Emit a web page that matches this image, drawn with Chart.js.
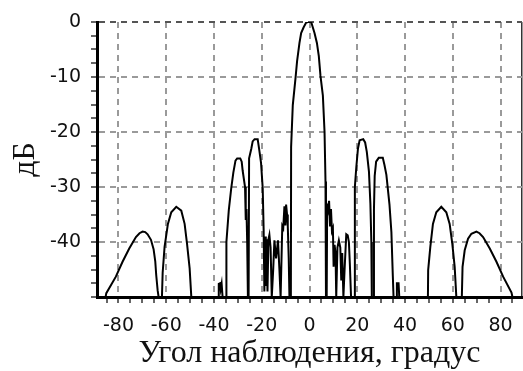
<!DOCTYPE html>
<html>
<head>
<meta charset="utf-8">
<script src="https://cdn.jsdelivr.net/npm/chart.js@4/dist/chart.umd.min.js"></script>
<style>
  html, body { margin: 0; padding: 0; background: #fff; }
  canvas { display: block; }
</style>
</head>
<body>
<canvas id="pattern" width="523" height="371"></canvas>
<script>
// ── DATA: radiation pattern, angle (deg) → level (dB) ─────────
const angles = [
  -89, -85.4, -85.1, -81.1, -78.3, -75.5, -72.7, -71.2, -69.9, -68.8, -67.8, -66.4, -65.3, -64.6, -64.2, -63.6, -63.2,
  -61.8, -61.5, -60.7, -59.3, -57.9, -55.8, -53.7, -52.3, -51.3, -50.2, -49.5,
  -38.3, -38.0, -37.5, -37.2, -36.8, -36.4,
  -34.9, -34.8, -33.8, -32.8, -31.9, -31.0, -30.3, -29.0, -28.4, -28.0, -27.0, -26.7, -26.4, -26.1, -25.8,
  -25.5, -25.3, -24.4, -23.8, -23.0, -21.7, -21.0, -20.3, -19.6, -19.2,
  -18.9, -18.6, -18.3, -18.0, -17.6, -17.2, -16.8, -16.3, -15.8, -15.2, -14.7, -14.0, -13.2, -12.6, -12.1,
  -11.4, -11.0, -10.5, -10.1, -9.8, -9.4, -9.1, -8.7, -8.4, -7.8,
  -7.7, -7.0, -5.9, -5.2, -4.2, -3.5, -2.5, -1.4, -0.5, 0.7, 1.4, 2.1, 3.1, 3.9, 4.6, 5.6, 6.3, 6.7, 6.9,
  7.2, 7.4, 7.8, 8.2, 8.6, 9.0, 9.4, 9.8, 10.1, 10.5, 10.9, 11.2, 11.7, 12.3, 12.9, 13.3, 13.7, 14.2,
  14.7, 15.4, 16.0, 16.5, 16.9, 17.4, 18.8,
  19.0, 19.6, 20.3, 21.0, 22.5, 23.3, 24.0, 24.9, 25.5, 25.9, 26.1,
  26.6, 27.0, 27.3, 27.9, 29.0, 30.7, 31.4, 32.2, 33.5, 34.3, 34.9, 35.2,
  36.3, 36.6, 37.3, 37.6,
  49.6, 49.7, 50.6, 51.7, 53.1, 55.2, 57.3, 58.7, 59.8, 60.8, 61.5,
  63.8, 64.1, 65.0, 66.4, 67.8, 69.9, 71.2, 72.7, 75.5, 78.3, 81.1, 84.6, 85.0, 89
];
const levels = [
  -50, -50, -49.3, -46.3, -43.6, -41.2, -39.1, -38.4, -38.1, -38.2, -38.6, -39.6, -41.3, -43.5, -46, -48.8, -50,
  -50, -45.6, -40.9, -36.7, -34.6, -33.6, -34.3, -36.7, -40.3, -44.8, -50,
  -50, -47.6, -47.5, -48.6, -47.6, -50,
  -50, -40, -34.2, -30.3, -27.4, -25.2, -24.8, -24.8, -25.4, -27, -30, -36, -34, -40, -50,
  -50, -24.8, -23.1, -21.7, -21.3, -21.3, -23.4, -25.6, -30.2, -37.9,
  -49, -39, -48, -39.5, -49, -39.5, -38.7, -41, -50, -45, -39.7, -43, -39.7, -45, -50,
  -37.1, -37.5, -33.5, -37, -33.2, -35, -37.1, -43, -50, -50,
  -22.7, -15.1, -10.4, -7.1, -3.8, -2.0, -1.0, -0.1, 0, 0, -1.0, -2.0, -3.8, -6.2, -9.8, -13.4, -20, -29, -50,
  -50, -33, -34, -32.5, -37, -34, -38, -37.5, -44.5, -40.5, -42, -50, -41, -39.7, -41, -47, -42, -50,
  -45, -38.6, -38.8, -40, -44, -50, -50,
  -30, -26.4, -23, -21.5, -21.3, -21.9, -23.6, -27.2, -33, -40, -50,
  -50, -34, -28, -25.4, -24.7, -24.7, -26, -27.8, -33.2, -38.2, -46.2, -50,
  -50, -47.5, -47.5, -50,
  -50, -45.1, -40.9, -36.7, -34.6, -33.6, -34.6, -36.7, -40.3, -44.5, -50,
  -50, -44.5, -41.5, -39.4, -38.5, -38.1, -38.4, -39.1, -41.2, -43.6, -46.3, -49.2, -50, -50
];

// ── AXES ──────────────────────────────────────────────────────
const xMin = -89, xMax = 89;
const yMin = -50, yMax = 0;
const xTicks = [-85, -80, -75, -70, -65, -60, -55, -50, -45, -40, -35, -30, -25, -20, -15, -10, -5, 0,
                5, 10, 15, 20, 25, 30, 35, 40, 45, 50, 55, 60, 65, 70, 75, 80, 85];
const xLabelTicks = [-80, -60, -40, -20, 0, 20, 40, 60, 80];
const yTicks = [-50, -47.5, -45, -42.5, -40, -37.5, -35, -32.5, -30, -27.5, -25, -22.5, -20,
                -17.5, -15, -12.5, -10, -7.5, -5, -2.5, 0];
const yLabelTicks = [-40, -30, -20, -10, 0];

const gridGray = '#9a9a9a';
const tickFont = { family: "'DejaVu Sans', sans-serif", size: 19 };
const titleFont = { family: "'Liberation Serif', serif", size: 32, lineHeight: 1 };

new Chart(document.getElementById('pattern'), {
  type: 'line',
  data: {
    datasets: [{
      data: angles.map((a, i) => ({ x: a, y: levels[i] })),
      borderColor: '#000',
      borderWidth: 2,
      pointRadius: 0,
      tension: 0,
      fill: false
    }]
  },
  options: {
    responsive: false,
    animation: false,
    events: [],
    layout: { padding: { top: 22, right: 1, bottom: 0, left: 0 } },
    plugins: { legend: { display: false }, tooltip: { enabled: false } },
    scales: {
      x: {
        type: 'linear',
        min: xMin,
        max: xMax,
        afterBuildTicks: s => { s.ticks = xTicks.concat([xMax]).map(v => ({ value: v })); },
        // labels sit inside the plot width, so no side padding is needed
        afterFit: s => { s.height = 74; s.paddingLeft = 0; s.paddingRight = 0; },
        ticks: {
          autoSkip: false,
          maxRotation: 0,
          padding: 12,
          color: '#111',
          font: tickFont,
          callback: v => xLabelTicks.includes(v) ? String(v) : ''
        },
        grid: {
          color: c => c.tick.value === xMax ? '#333' : (c.tick.value % 20 === 0 ? gridGray : 'rgba(0,0,0,0)'),
          lineWidth: c => c.tick.value === xMax ? 1.5 : 2,
          tickLength: 6,
          tickWidth: 1.5,
          tickColor: c => c.tick.value === xMax ? 'rgba(0,0,0,0)' : '#333'
        },
        border: {
          display: true, color: '#000', width: 3, z: 1,
          dash: c => (c.tick && c.tick.value === xMax) ? [] : [6, 5]
        },
        title: {
          display: true,
          text: 'Угол наблюдения, градус',
          color: '#111',
          font: titleFont,
          padding: { top: 0, bottom: 1 }
        }
      },
      y: {
        type: 'linear',
        min: yMin,
        max: yMax,
        afterBuildTicks: s => { s.ticks = yTicks.map(v => ({ value: v })); },
        afterFit: s => { s.width = 97; },
        ticks: {
          autoSkip: false,
          padding: 10,
          color: '#111',
          font: tickFont,
          callback: v => yLabelTicks.includes(v) ? String(v) : ''
        },
        grid: {
          color: c => c.tick.value === 0 ? '#555' : (c.tick.value % 10 === 0 && c.tick.value > yMin ? gridGray : 'rgba(0,0,0,0)'),
          lineWidth: 2,
          tickLength: 6,
          tickWidth: 1.5,
          tickColor: '#333'
        },
        border: { display: true, color: '#000', width: 3, z: 1, dash: [6, 5] },
        title: {
          display: true,
          text: 'дБ',
          color: '#111',
          font: titleFont,
          padding: { top: 10, bottom: 0 }
        }
      }
    }
  }
});
</script>
</body>
</html>
